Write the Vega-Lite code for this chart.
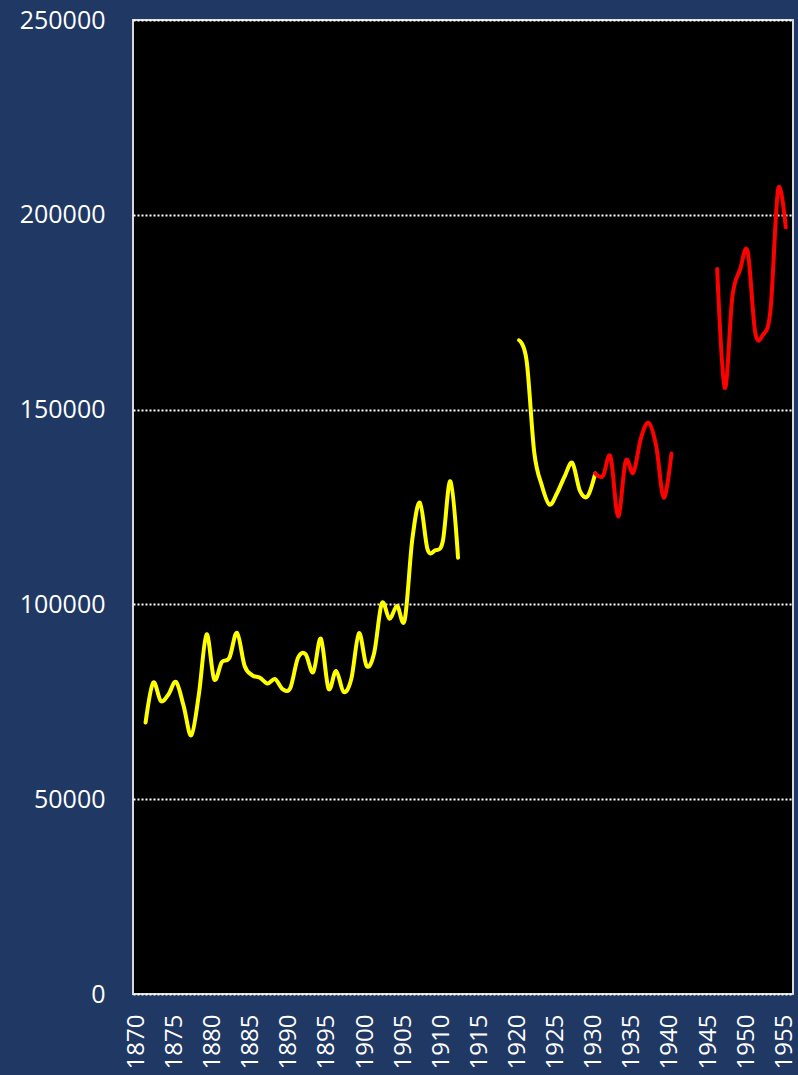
{
  "$schema": "https://vega.github.io/schema/vega-lite/v6.json",
  "width": 660,
  "height": 974,
  "autosize": {"type": "none"},
  "padding": {"left": 133, "top": 20, "right": 5, "bottom": 81},
  "background": "#1F3864",
  "config": {
    "view": {"fill": "#000000", "stroke": "#D9D9D9", "strokeWidth": 2},
    "font": "Open Sans"
  },
  "data": {
    "values": [
      {"year": 1871, "value": 69700, "series": "Series 1", "seg": "a"},
      {"year": 1872, "value": 79900, "series": "Series 1", "seg": "a"},
      {"year": 1873, "value": 75200, "series": "Series 1", "seg": "a"},
      {"year": 1874, "value": 76900, "series": "Series 1", "seg": "a"},
      {"year": 1875, "value": 80100, "series": "Series 1", "seg": "a"},
      {"year": 1876, "value": 73900, "series": "Series 1", "seg": "a"},
      {"year": 1877, "value": 66400, "series": "Series 1", "seg": "a"},
      {"year": 1878, "value": 77000, "series": "Series 1", "seg": "a"},
      {"year": 1879, "value": 92300, "series": "Series 1", "seg": "a"},
      {"year": 1880, "value": 80800, "series": "Series 1", "seg": "a"},
      {"year": 1881, "value": 85200, "series": "Series 1", "seg": "a"},
      {"year": 1882, "value": 86300, "series": "Series 1", "seg": "a"},
      {"year": 1883, "value": 92700, "series": "Series 1", "seg": "a"},
      {"year": 1884, "value": 84200, "series": "Series 1", "seg": "a"},
      {"year": 1885, "value": 81800, "series": "Series 1", "seg": "a"},
      {"year": 1886, "value": 81200, "series": "Series 1", "seg": "a"},
      {"year": 1887, "value": 79700, "series": "Series 1", "seg": "a"},
      {"year": 1888, "value": 80800, "series": "Series 1", "seg": "a"},
      {"year": 1889, "value": 78200, "series": "Series 1", "seg": "a"},
      {"year": 1890, "value": 78600, "series": "Series 1", "seg": "a"},
      {"year": 1891, "value": 86300, "series": "Series 1", "seg": "a"},
      {"year": 1892, "value": 87200, "series": "Series 1", "seg": "a"},
      {"year": 1893, "value": 82600, "series": "Series 1", "seg": "a"},
      {"year": 1894, "value": 91200, "series": "Series 1", "seg": "a"},
      {"year": 1895, "value": 78400, "series": "Series 1", "seg": "a"},
      {"year": 1896, "value": 82900, "series": "Series 1", "seg": "a"},
      {"year": 1897, "value": 77500, "series": "Series 1", "seg": "a"},
      {"year": 1898, "value": 80900, "series": "Series 1", "seg": "a"},
      {"year": 1899, "value": 92600, "series": "Series 1", "seg": "a"},
      {"year": 1900, "value": 84200, "series": "Series 1", "seg": "a"},
      {"year": 1901, "value": 87600, "series": "Series 1", "seg": "a"},
      {"year": 1902, "value": 100300, "series": "Series 1", "seg": "a"},
      {"year": 1903, "value": 96300, "series": "Series 1", "seg": "a"},
      {"year": 1904, "value": 99600, "series": "Series 1", "seg": "a"},
      {"year": 1905, "value": 96000, "series": "Series 1", "seg": "a"},
      {"year": 1906, "value": 116700, "series": "Series 1", "seg": "a"},
      {"year": 1907, "value": 126100, "series": "Series 1", "seg": "a"},
      {"year": 1908, "value": 114100, "series": "Series 1", "seg": "a"},
      {"year": 1909, "value": 113900, "series": "Series 1", "seg": "a"},
      {"year": 1910, "value": 116200, "series": "Series 1", "seg": "a"},
      {"year": 1911, "value": 131600, "series": "Series 1", "seg": "a"},
      {"year": 1912, "value": 112000, "series": "Series 1", "seg": "a"},
      {"year": 1920, "value": 167800, "series": "Series 1", "seg": "b"},
      {"year": 1921, "value": 162500, "series": "Series 1", "seg": "b"},
      {"year": 1922, "value": 139000, "series": "Series 1", "seg": "b"},
      {"year": 1923, "value": 130500, "series": "Series 1", "seg": "b"},
      {"year": 1924, "value": 125600, "series": "Series 1", "seg": "b"},
      {"year": 1925, "value": 128600, "series": "Series 1", "seg": "b"},
      {"year": 1926, "value": 132900, "series": "Series 1", "seg": "b"},
      {"year": 1927, "value": 136300, "series": "Series 1", "seg": "b"},
      {"year": 1928, "value": 129100, "series": "Series 1", "seg": "b"},
      {"year": 1929, "value": 127800, "series": "Series 1", "seg": "b"},
      {"year": 1930, "value": 133600, "series": "Series 1", "seg": "b"},
      {"year": 1930, "value": 133600, "series": "Series 2", "seg": "c"},
      {"year": 1931, "value": 132900, "series": "Series 2", "seg": "c"},
      {"year": 1932, "value": 138000, "series": "Series 2", "seg": "c"},
      {"year": 1933, "value": 122600, "series": "Series 2", "seg": "c"},
      {"year": 1934, "value": 136800, "series": "Series 2", "seg": "c"},
      {"year": 1935, "value": 133800, "series": "Series 2", "seg": "c"},
      {"year": 1936, "value": 142700, "series": "Series 2", "seg": "c"},
      {"year": 1937, "value": 146600, "series": "Series 2", "seg": "c"},
      {"year": 1938, "value": 140600, "series": "Series 2", "seg": "c"},
      {"year": 1939, "value": 127400, "series": "Series 2", "seg": "c"},
      {"year": 1940, "value": 138700, "series": "Series 2", "seg": "c"},
      {"year": 1946, "value": 186100, "series": "Series 2", "seg": "d"},
      {"year": 1947, "value": 155600, "series": "Series 2", "seg": "d"},
      {"year": 1948, "value": 179100, "series": "Series 2", "seg": "d"},
      {"year": 1949, "value": 185900, "series": "Series 2", "seg": "d"},
      {"year": 1950, "value": 190600, "series": "Series 2", "seg": "d"},
      {"year": 1951, "value": 169700, "series": "Series 2", "seg": "d"},
      {"year": 1952, "value": 169200, "series": "Series 2", "seg": "d"},
      {"year": 1953, "value": 175600, "series": "Series 2", "seg": "d"},
      {"year": 1954, "value": 206600, "series": "Series 2", "seg": "d"},
      {"year": 1955, "value": 196800, "series": "Series 2", "seg": "d"}
    ]
  },
  "mark": {"type": "line", "interpolate": "cardinal", "strokeWidth": 4, "strokeCap": "round", "strokeJoin": "round"},
  "encoding": {
    "x": {
      "field": "year",
      "type": "quantitative",
      "scale": {"domain": [1869.35, 1955.95], "nice": false, "zero": false},
      "axis": {
        "title": null,
        "values": [1870, 1875, 1880, 1885, 1890, 1895, 1900, 1905, 1910, 1915, 1920, 1925, 1930, 1935, 1940, 1945, 1950, 1955],
        "format": "d",
        "labelAngle": -90,
        "labelColor": "#FFFFFF",
        "labelFont": "Open Sans",
        "labelFontSize": 24,
        "labelPadding": 20,
        "labelOffset": -1.5,
        "ticks": false,
        "domain": false,
        "grid": false,
        "labelOverlap": false,
        "labelFlush": false
      }
    },
    "y": {
      "field": "value",
      "type": "quantitative",
      "scale": {"domain": [0, 250000], "nice": false},
      "axis": {
        "title": null,
        "values": [0, 50000, 100000, 150000, 200000, 250000],
        "format": "d",
        "labelColor": "#FFFFFF",
        "labelFont": "Open Sans",
        "labelFontSize": 25,
        "labelPadding": 28,
        "ticks": false,
        "domain": false,
        "grid": true,
        "gridColor": "#FFFFFF",
        "gridWidth": 2,
        "gridDash": [2, 2],
        "labelFlush": false,
        "labelOverlap": false
      }
    },
    "color": {
      "field": "series",
      "type": "nominal",
      "scale": {"domain": ["Series 1", "Series 2"], "range": ["#FFFF00", "#FF0000"]},
      "legend": null
    },
    "detail": {"field": "seg", "type": "nominal"}
  }
}
